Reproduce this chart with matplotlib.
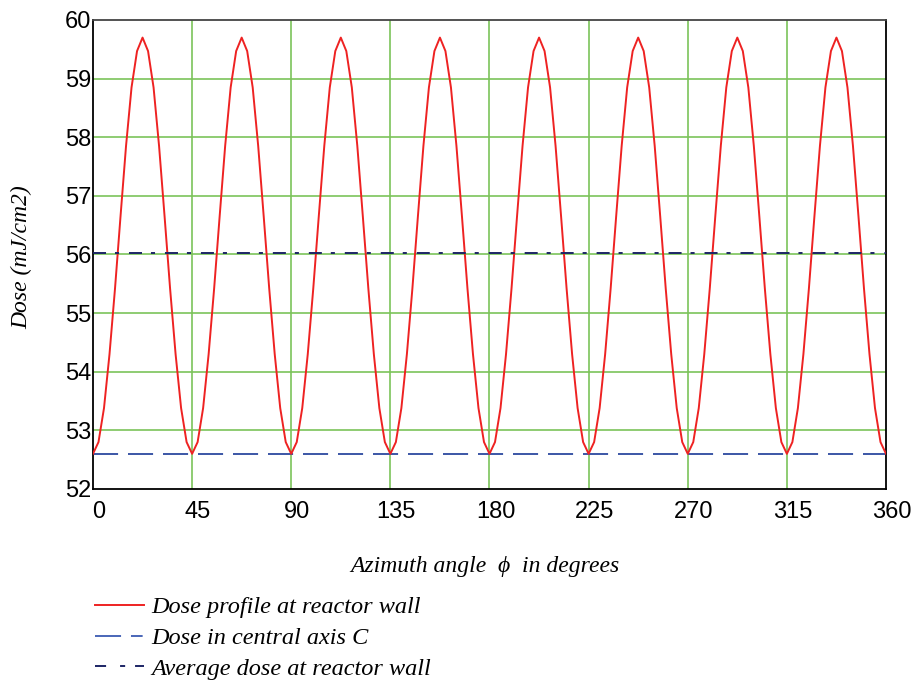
import numpy as np
import matplotlib
matplotlib.use('Agg')
import matplotlib.pyplot as plt
import matplotlib.transforms as mtransforms
from matplotlib.lines import Line2D

# One 45-degree period of the wall dose profile, read at 2.5 degree steps
wall_period = [52.60, 52.80, 53.38, 54.30, 55.42, 56.65, 57.85, 58.85, 59.47, 59.70,
               59.47, 58.85, 57.85, 56.65, 55.42, 54.30, 53.38, 52.80]
wall_dose = wall_period * 8 + [52.60]
angle = np.linspace(0, 360, len(wall_dose))

central_dose = 52.60
average_dose = 56.03

x_ticks = [0, 45, 90, 135, 180, 225, 270, 315, 360]
y_ticks = [52, 53, 54, 55, 56, 57, 58, 59, 60]

legend_labels = ['Dose profile at reactor wall',
                 'Dose in central axis C',
                 'Average dose at reactor wall']

red = '#ee2222'
blue = '#3b56a6'
navy = '#1c2565'
dash_c = (12.9, 5.1)
dash_a = (6.7, 4.6, 2.1, 5.1)

fig = plt.figure(figsize=(9.17, 6.8), dpi=100)
ax = fig.add_axes([0.1014, 0.2809, 0.8648, 0.6897])

grid_col = '#7cc35a'
for xv in x_ticks[1:-1]:
    ax.axvline(xv, color=grid_col, lw=1.2, zorder=1)
for yv in y_ticks[1:-1]:
    ax.axhline(yv, color=grid_col, lw=1.2, zorder=1)

ax.plot(angle, wall_dose, color=red, lw=1.4, zorder=3)
ax.plot([0, 360], [central_dose, central_dose], color=blue, lw=1.4,
        dashes=dash_c, zorder=2)
ax.plot([0, 360], [average_dose, average_dose], color=navy, lw=1.4,
        dashes=dash_a, zorder=4)

ax.set_xlim(0, 360)
ax.set_ylim(52, 60)
ax.set_xticks(x_ticks)
ax.set_yticks(y_ticks)
ax.tick_params(length=0, labelsize=17)
ax.tick_params(axis='x', pad=9)
ax.tick_params(axis='y', pad=1)
shift = mtransforms.ScaledTranslation(6 / 100, 0, fig.dpi_scale_trans)
for lab in ax.get_xticklabels():
    lab.set_family('Liberation Sans')
    lab.set_transform(lab.get_transform() + shift)
for lab in ax.get_yticklabels():
    lab.set_family('Liberation Sans')
for s in ax.spines.values():
    s.set_linewidth(1.3)
ax.spines['top'].set_color('#444444')

serif = dict(family='Liberation Serif', style='italic', fontsize=17)
fig.text(0.024, 0.622, 'Dose (mJ/cm2)', rotation=90, ha='center', va='center', **serif)
fig.text(0.529, 0.167, 'Azimuth angle  \u03d5  in degrees', ha='center', va='center', **serif)

handles = [Line2D([], [], color=red, lw=1.4),
           Line2D([], [], color='#4a66b8', lw=1.4, dashes=(13.4, 5.1, 6.0, 5.1)),
           Line2D([], [], color=navy, lw=1.4, dashes=(5.7, 7.2, 2.6, 5.1))]
fig.legend(handles, legend_labels, loc='upper left', bbox_to_anchor=(0.104, 0.123),
           frameon=False, handlelength=2.0, handletextpad=0.3, labelspacing=0.36,
           prop=dict(family='Liberation Serif', style='italic', size=17.5),
           borderpad=0, borderaxespad=0)

fig.savefig('out.png', dpi=100)
